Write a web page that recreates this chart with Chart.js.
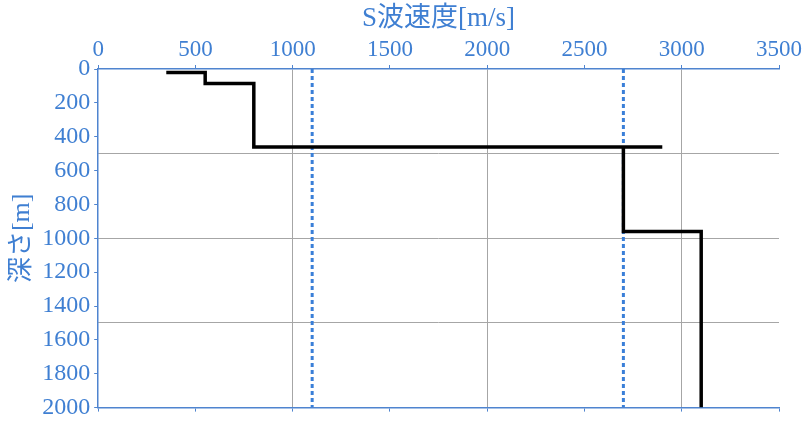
<!DOCTYPE html>
<html>
<head>
<meta charset="utf-8">
<script src="https://cdn.jsdelivr.net/npm/chart.js@4"></script>
<style>
  html, body { margin: 0; padding: 0; background: #fff; }
  #wrap { width: 810px; height: 426px; }
</style>
</head>
<body>
<div id="wrap"><canvas id="chart"></canvas></div>
<script>
// S-wave velocity profile (step line)
const profileVs = [350, 550, 550, 800, 800, 2900, 2700, 2700, 3100, 3100];
const profileDepth = [20, 20, 85, 85, 460, 460, 460, 960, 960, 2000];

// dotted reference velocities
const refVs = [1100, 2700];
const refDepth = [0, 2000];

const xTicksMax = 3500;
const yTicksMax = 2000;
const xGridAt = [1000, 2000, 3000];
const yGridAt = [500, 1000, 1500];

const blue = "#3f7fd2";
const axisBlue = "#4f84cf";
const gridGray = "#a6a6a6";
const serif = "'Liberation Serif', 'Noto Sans CJK JP', serif";

const datasets = [{
    label: "Vs",
    data: profileVs.map((v, i) => ({ x: v, y: profileDepth[i] })),
    showLine: true,
    borderColor: "#000",
    borderWidth: 3.5,
    pointRadius: 0,
    fill: false
}];
refVs.forEach(v => {
    datasets.push({
        label: "ref " + v,
        data: refDepth.map(d => ({ x: v, y: d })),
        showLine: true,
        borderColor: "#3a7fd8",
        borderWidth: 3,
        borderDash: [4, 3],
        pointRadius: 0,
        fill: false
    });
});

new Chart(document.getElementById("chart"), {
    type: "scatter",
    data: { datasets: datasets },
    options: {
        responsive: true,
        maintainAspectRatio: false,
        animation: false,
        layout: { padding: { left: 7, right: 31, top: 3, bottom: 10 } },
        plugins: { legend: { display: false }, tooltip: { enabled: false } },
        scales: {
            x: {
                position: "top",
                min: 0, max: xTicksMax,
                ticks: { stepSize: 500, color: blue, font: { family: serif, size: 23 }, padding: 1, maxRotation: 0,
                    callback: v => String(v) },
                grid: {
                    color: ctx => xGridAt.includes(ctx.tick && ctx.tick.value) ? gridGray : "rgba(0,0,0,0)",
                    tickColor: axisBlue,
                    tickLength: 4
                },
                border: { color: axisBlue, width: 1.5 },
                title: { display: true, text: "S波速度[m/s]", color: blue, font: { family: serif, size: 27 }, padding: { top: 0, bottom: 0 } }
            },
            xb: {
                position: "bottom",
                min: 0, max: xTicksMax,
                ticks: { stepSize: 500, display: false },
                grid: { drawOnChartArea: false, tickColor: axisBlue, tickLength: 4 },
                border: { color: axisBlue, width: 1.5 }
            },
            y: {
                position: "left",
                reverse: true,
                min: 0, max: yTicksMax,
                ticks: { stepSize: 200, color: blue, font: { family: serif, size: 24 }, padding: 4,
                    callback: v => String(v) },
                grid: { drawOnChartArea: false, tickColor: axisBlue, tickLength: 4 },
                border: { color: axisBlue, width: 1.5 },
                title: { display: true, text: "深さ[m]", color: blue, font: { family: serif, size: 26 }, padding: { top: 0, bottom: 0 } }
            },
            yg: {
                position: "right",
                reverse: true,
                min: 0, max: yTicksMax,
                ticks: { stepSize: 500, display: false },
                grid: {
                    color: ctx => yGridAt.includes(ctx.tick && ctx.tick.value) ? gridGray : "rgba(0,0,0,0)",
                    drawTicks: false
                },
                border: { display: false }
            }
        }
    }
});
</script>
</body>
</html>
